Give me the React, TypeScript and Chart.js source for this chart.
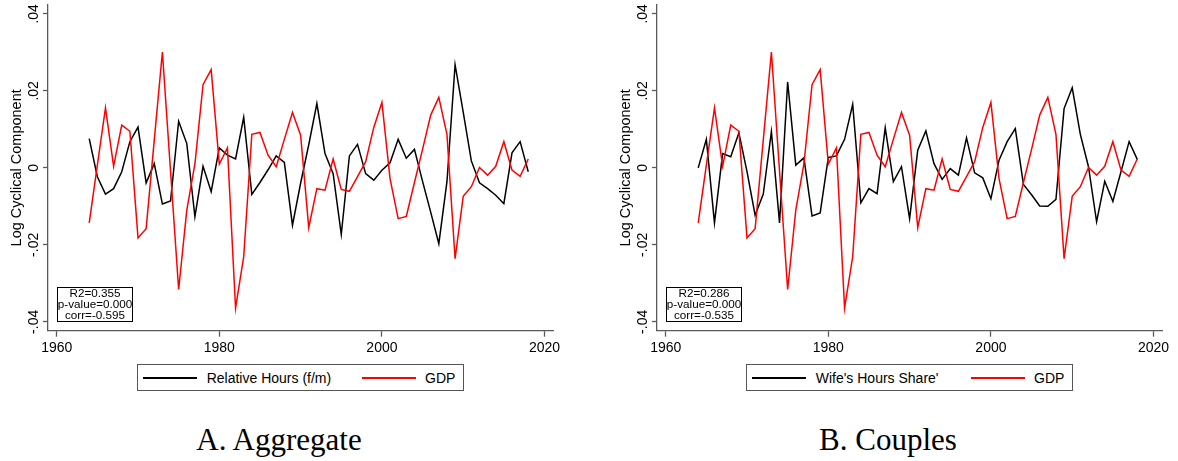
import React, { useEffect, useRef } from "react";
import { Chart, registerables } from "chart.js";

Chart.register(...registerables);

// Annual cyclical components (log deviations from trend), 1964-2018
const years = [
  1964, 1965, 1966, 1967, 1968, 1969, 1970, 1971, 1972, 1973, 1974,
  1975, 1976, 1977, 1978, 1979, 1980, 1981, 1982, 1983, 1984, 1985,
  1986, 1987, 1988, 1989, 1990, 1991, 1992, 1993, 1994, 1995, 1996,
  1997, 1998, 1999, 2000, 2001, 2002, 2003, 2004, 2005, 2006, 2007,
  2008, 2009, 2010, 2011, 2012, 2013, 2014, 2015, 2016, 2017, 2018,
];

const gdp = [
  -0.0143, 0.0007, 0.0156, 0.0004, 0.0111, 0.0095, -0.0182, -0.0158, 0.0072, 0.0301, -0.0008,
  -0.0316, -0.011, 0.001, 0.0216, 0.0255, 0.001, 0.0052, -0.0364, -0.0231, 0.0087, 0.0092,
  0.0033, 0.0003, 0.0074, 0.0144, 0.0085, -0.0155, -0.0054, -0.0058, 0.0023, -0.0056, -0.0061,
  -0.0023, 0.0016, 0.0105, 0.017, -0.0028, -0.0132, -0.0126, -0.0038, 0.0048, 0.0137, 0.0183,
  0.0087, -0.0236, -0.0074, -0.0049, 0.0001, -0.0019, 0.0004, 0.0068, -0.0006, -0.0022, 0.0023,
];

const relativeHours = [
  0.0076, -0.0023, -0.0068, -0.0054, -0.001, 0.0068, 0.0106, -0.0039, 0.0011, -0.0094, -0.0086,
  0.0121, 0.0063, -0.0127, 0.0004, -0.0062, 0.0052, 0.0033, 0.0023, 0.0131, -0.0069, -0.0038,
  -0.0005, 0.0031, 0.0014, -0.0149, -0.004, 0.006, 0.0167, 0.0037, -0.0015, -0.0173, 0.0031,
  0.0061, -0.0015, -0.0032, -0.0006, 0.0013, 0.0074, 0.0025, 0.0048, -0.0035, -0.0115, -0.0197,
  -0.0036, 0.0268, 0.0145, 0.0018, -0.0039, -0.0054, -0.0071, -0.0093, 0.0039, 0.0068, -0.001,
];

const wifeHoursShare = [
  0.0, 0.0074, -0.0143, 0.0037, 0.0029, 0.0091, -0.001, -0.0123, -0.0068, 0.0094, -0.0143,
  0.0223, 0.0007, 0.0026, -0.0125, -0.0117, 0.0027, 0.0031, 0.0074, 0.0165, -0.0091, -0.0054,
  -0.0067, 0.0104, -0.0036, 0.0003, -0.0132, 0.0046, 0.0096, 0.0011, -0.003, -0.0002, -0.0019,
  0.0078, -0.0013, -0.0026, -0.008, 0.002, 0.0068, 0.0102, -0.0043, -0.007, -0.0099, -0.01,
  -0.0082, 0.0154, 0.0208, 0.0087, 0.0003, -0.014, -0.0035, -0.0087, -0.001, 0.0068, 0.0022,
];

const xTickValues = [1960, 1980, 2000, 2020];
const yTickValues = [-0.04, -0.02, 0, 0.02, 0.04];
const yTickLabels = ["-.04", "-.02", "0", ".02", ".04"];

const statsAggregate = ["R2=0.355", "p-value=0.000", "corr=-0.595"];
const statsCouples = ["R2=0.286", "p-value=0.000", "corr=-0.535"];

const gdpLabel = "GDP";
const yAxisTitle = "Log Cyclical Component";

const SANS = '"Liberation Sans", Arial, Helvetica, sans-serif';
const SERIF = '"Liberation Serif", "Times New Roman", serif';
const AXIS_GRAY = "#5a5a5a";
const GDP_RED = "#ff0000";

const CANVAS_W = 590;
const CANVAS_H = 361;

// Rotated y tick labels and the rotated axis title, placed from the y scale
const yAxisText = {
  id: "yAxisText",
  afterDraw(chart: any) {
    const { ctx, chartArea } = chart;
    const ys = chart.scales.y;
    ctx.save();
    ctx.fillStyle = "#000";
    ctx.textAlign = "center";
    ctx.textBaseline = "alphabetic";
    ctx.font = `14px ${SANS}`;
    yTickValues.forEach((v, i) => {
      const py = ys.getPixelForValue(v);
      ctx.save();
      ctx.translate(chartArea.left - 10, py);
      ctx.rotate(-Math.PI / 2);
      ctx.fillText(yTickLabels[i], 0, 0);
      ctx.restore();
    });
    ctx.font = `14.5px ${SANS}`;
    ctx.translate(chartArea.left - 27.5, (chartArea.top + chartArea.bottom) / 2);
    ctx.rotate(-Math.PI / 2);
    ctx.fillText(yAxisTitle, 0, 0);
    ctx.restore();
  },
};

type PanelProps = {
  dx: number;
  label: string;
  values: number[];
  stats: string[];
  title: string;
};

function Panel({ dx, label, values, stats, title }: PanelProps) {
  const ref = useRef<HTMLCanvasElement | null>(null);

  useEffect(() => {
    if (!ref.current) return;
    const toPoints = (vals: number[]) => years.map((yr, i) => ({ x: yr, y: vals[i] }));
    const axisGrid = {
      display: true,
      drawOnChartArea: false,
      drawTicks: true,
      tickLength: 6,
      tickColor: AXIS_GRAY,
      tickWidth: 1.3,
    };
    const axisBorder = { display: true, color: AXIS_GRAY, width: 1.3 };
    const chart = new Chart(ref.current, {
      type: "line",
      data: {
        datasets: [
          {
            label: gdpLabel,
            data: toPoints(gdp),
            borderColor: GDP_RED,
            borderWidth: 1.5,
            pointRadius: 0,
            tension: 0,
            fill: false,
            borderJoinStyle: "miter",
          },
          {
            label,
            data: toPoints(values),
            borderColor: "#000000",
            borderWidth: 1.5,
            pointRadius: 0,
            tension: 0,
            fill: false,
            borderJoinStyle: "miter",
          },
        ],
      },
      options: {
        responsive: false,
        animation: false,
        devicePixelRatio: 1,
        events: [],
        layout: { padding: { left: 0, top: 5, right: CANVAS_W - 553.3, bottom: 0 } },
        plugins: { legend: { display: false }, tooltip: { enabled: false } },
        scales: {
          x: {
            type: "linear",
            min: 1958.93,
            max: 2021.08,
            afterBuildTicks: (axis: any) => {
              axis.ticks = xTickValues.map((v) => ({ value: v }));
            },
            afterFit: (axis: any) => {
              axis.height = 30.3;
            },
            ticks: {
              autoSkip: false,
              maxRotation: 0,
              minRotation: 0,
              padding: 3,
              color: "#000",
              font: { family: SANS, size: 14 },
              callback: (v: any) => String(v),
            },
            grid: axisGrid,
            border: axisBorder,
          },
          y: {
            type: "linear",
            min: -0.0423,
            max: 0.0423,
            afterBuildTicks: (axis: any) => {
              axis.ticks = yTickValues.map((v) => ({ value: v }));
            },
            afterFit: (axis: any) => {
              axis.width = 48;
            },
            ticks: { display: false },
            grid: { ...axisGrid, tickLength: 5 },
            border: axisBorder,
          },
        },
      },
      plugins: [yAxisText],
    } as any);
    return () => chart.destroy();
  }, []);

  return (
    <>
      <canvas
        ref={ref}
        width={CANVAS_W}
        height={CANVAS_H}
        style={{ position: "absolute", left: dx, top: 0, width: CANVAS_W, height: CANVAS_H }}
      />
      {/* regression statistics box */}
      <div
        style={{
          position: "absolute",
          left: dx + 57,
          top: 286.7,
          width: 76,
          height: 35,
          border: "1.5px solid #000",
          boxSizing: "border-box",
        }}
      />
      <div
        style={{
          position: "absolute",
          left: dx + 57,
          top: 286.6,
          width: 76,
          textAlign: "center",
          font: `11.7px/11.3px ${SANS}`,
          color: "#000",
          whiteSpace: "nowrap",
        }}
      >
        {stats.map((s) => (
          <div key={s}>{s}</div>
        ))}
      </div>
      {/* legend */}
      <div
        style={{
          position: "absolute",
          left: dx + 136.7,
          top: 364.3,
          width: 327.3,
          height: 26.4,
          border: "1.2px solid #555",
          boxSizing: "border-box",
        }}
      />
      <div
        style={{ position: "absolute", left: dx + 143, top: 377, width: 54, height: 2, backgroundColor: "#000" }}
      />
      <div
        style={{
          position: "absolute",
          left: dx + 206.7,
          top: 371.2,
          font: `14px/14px ${SANS}`,
          color: "#000",
          whiteSpace: "nowrap",
        }}
      >
        {label}
      </div>
      <div
        style={{ position: "absolute", left: dx + 362, top: 377, width: 54, height: 2, backgroundColor: GDP_RED }}
      />
      <div
        style={{
          position: "absolute",
          left: dx + 425,
          top: 371.2,
          font: `14px/14px ${SANS}`,
          color: "#000",
          whiteSpace: "nowrap",
        }}
      >
        {gdpLabel}
      </div>
      {/* panel caption */}
      <div
        style={{
          position: "absolute",
          left: dx + 129,
          top: 424,
          width: 300,
          textAlign: "center",
          font: `31px/31px ${SERIF}`,
          color: "#000",
          whiteSpace: "nowrap",
        }}
      >
        {title}
      </div>
    </>
  );
}

export default function App() {
  return (
    <div
      style={{
        position: "absolute",
        left: 0,
        top: 0,
        width: 1178,
        height: 461,
        background: "#fff",
        overflow: "hidden",
      }}
    >
      <Panel dx={0} label="Relative Hours (f/m)" values={relativeHours} stats={statsAggregate} title="A. Aggregate" />
      <Panel dx={609} label="Wife's Hours Share'" values={wifeHoursShare} stats={statsCouples} title="B. Couples" />
    </div>
  );
}
